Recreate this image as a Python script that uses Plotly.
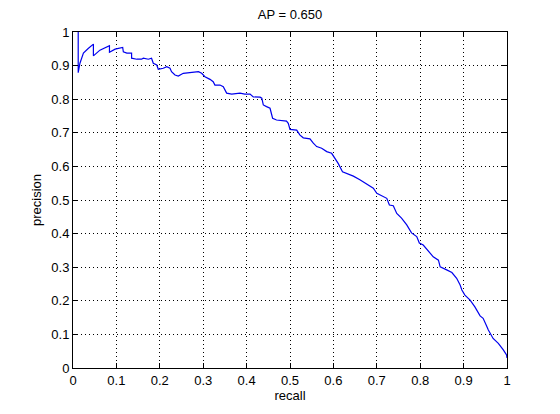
import plotly.graph_objects as go

recall = [0.012, 0.012, 0.016, 0.024, 0.035, 0.047, 0.047, 0.062, 0.084, 0.084,
          0.097, 0.1145, 0.116, 0.124, 0.135, 0.135, 0.147, 0.158, 0.162, 0.1735,
          0.181, 0.185, 0.193, 0.1965, 0.208, 0.216, 0.2235, 0.227, 0.235, 0.2426,
          0.254, 0.2735, 0.289, 0.2965, 0.304, 0.3157, 0.323, 0.327, 0.3387, 0.3463,
          0.354, 0.3657, 0.3848, 0.396, 0.408, 0.4154, 0.431, 0.435, 0.4385, 0.446,
          0.454, 0.458, 0.460, 0.469, 0.492, 0.496, 0.500, 0.5154, 0.523, 0.5306,
          0.546, 0.5537, 0.5615, 0.573, 0.5846, 0.596, 0.6037, 0.611, 0.621, 0.6306,
          0.646, 0.661, 0.669, 0.684, 0.692, 0.700, 0.711, 0.723, 0.729, 0.738,
          0.746, 0.757, 0.769, 0.780, 0.792, 0.798, 0.807, 0.819, 0.830, 0.842,
          0.846, 0.861, 0.873, 0.884, 0.892, 0.896, 0.903, 0.915, 0.926, 0.938,
          0.945, 0.952, 0.957, 0.968, 0.980, 0.9915, 0.999, 1.0]
precision = [1.0, 0.879, 0.907, 0.937, 0.951, 0.964, 0.929, 0.946, 0.959, 0.940,
             0.949, 0.954, 0.941, 0.937, 0.937, 0.922, 0.919, 0.919, 0.922, 0.919,
             0.922, 0.907, 0.902, 0.889, 0.892, 0.897, 0.892, 0.882, 0.872, 0.869,
             0.877, 0.880, 0.882, 0.877, 0.867, 0.859, 0.852, 0.842, 0.842, 0.837,
             0.818, 0.815, 0.818, 0.815, 0.815, 0.807, 0.806, 0.803, 0.783, 0.778,
             0.773, 0.753, 0.743, 0.738, 0.735, 0.728, 0.710, 0.708, 0.693, 0.685,
             0.682, 0.669, 0.659, 0.654, 0.644, 0.639, 0.624, 0.609, 0.584, 0.579,
             0.571, 0.560, 0.554, 0.542, 0.535, 0.520, 0.512, 0.505, 0.485, 0.483,
             0.460, 0.446, 0.426, 0.402, 0.391, 0.372, 0.366, 0.346, 0.331, 0.321,
             0.301, 0.292, 0.284, 0.267, 0.247, 0.232, 0.217, 0.202, 0.182, 0.155,
             0.148, 0.128, 0.113, 0.088, 0.0735, 0.054, 0.039, 0.030]

tick_vals = [0, 0.1, 0.2, 0.3, 0.4, 0.5, 0.6, 0.7, 0.8, 0.9, 1]
tick_text = ["0", "0.1", "0.2", "0.3", "0.4", "0.5", "0.6", "0.7", "0.8", "0.9", "1"]

FONT = "Liberation Sans, Arial, sans-serif"

# the page body has an 8px default margin; size the figure so it fills the rest
W, H = 552, 406
L, T = 65, 24
PW, PH = 434, 336

fig = go.Figure()
fig.add_trace(go.Scatter(x=recall, y=precision, mode="lines",
                         line=dict(color="#0000ee", width=1.2), showlegend=False))

axis_common = dict(
    range=[0, 1], tickvals=tick_vals, ticktext=tick_text,
    ticks="inside", ticklen=5, tickcolor="black", tickwidth=1,
    showline=True, linecolor="black", linewidth=1, mirror="ticks",
    showgrid=True, gridcolor="black", gridwidth=1, griddash="1px,3px",
    zeroline=False, automargin=False,
    tickfont=dict(family=FONT, size=13, color="black"),
)

fig.update_layout(
    width=W, height=H,
    margin=dict(l=L, r=W - L - PW, t=T, b=H - T - PH),
    paper_bgcolor="white", plot_bgcolor="white",
    font=dict(family=FONT, size=13, color="black"),
    title=dict(text="AP = 0.650", x=(L + PW / 2) / W, xanchor="center",
               y=1 - 6 / H, yanchor="middle", yref="container",
               font=dict(family=FONT, size=13, color="black")),
    xaxis=dict(title=dict(text="recall", standoff=4,
                          font=dict(family=FONT, size=13)), **axis_common),
    yaxis=dict(title=dict(text="precision", standoff=6,
                          font=dict(family=FONT, size=13)), **axis_common),
)

fig.write_html("out.html")
